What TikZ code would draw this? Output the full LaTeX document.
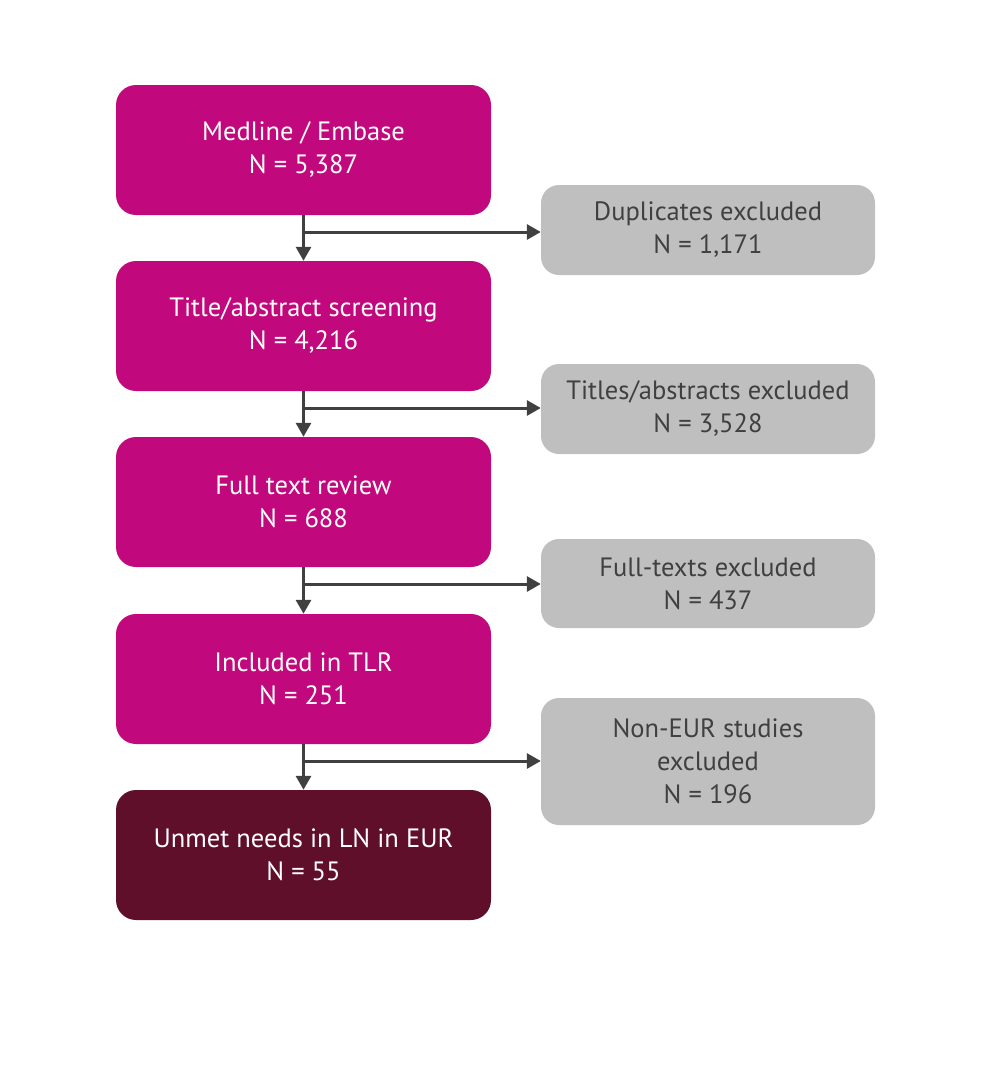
\documentclass[tikz,border=0pt]{standalone}
\usepackage{fontspec}
\setmainfont{PT Sans}
\usetikzlibrary{arrows.meta}
\definecolor{mag}{HTML}{C2087D}
\definecolor{maroon}{HTML}{600F2B}
\definecolor{greybox}{HTML}{BFBFBF}
\definecolor{dark}{HTML}{404040}
\begin{document}
\begin{tikzpicture}[x=1pt,y=-1pt,
  mainbox/.style={rounded corners=20pt, fill=mag, draw=none, text=white, minimum width=375pt, minimum height=130pt, align=center, font=\fontsize{26.5}{33}\selectfont, inner sep=0pt},
  endbox/.style={mainbox, fill=maroon},
  exbox/.style={rounded corners=18pt, fill=greybox, draw=none, text=dark, minimum width=334pt, align=center, font=\fontsize{26.5}{33}\selectfont, inner sep=0pt},
  conn/.style={draw=dark, line width=3pt, -{Triangle[length=14pt,width=15pt]}}]
\useasboundingbox (0,0) rectangle (1000,1065);
\node[mainbox] (m1) at (303.5,150) {Medline / Embase\\N = 5,387};
\node[mainbox] (m2) at (303.5,326) {Title/abstract screening\\N = 4,216};
\node[mainbox] (m3) at (303.5,502) {Full text review\\N = 688};
\node[mainbox] (m4) at (303.5,679) {Included in TLR\\N = 251};
\node[endbox] (m5) at (303.5,855) {Unmet needs in LN in EUR\\N = 55};
\node[exbox, minimum height=90pt] (e1) at (708,230) {Duplicates excluded\\N = 1,171};
\node[exbox, minimum height=90pt] (e2) at (708,409) {Titles/abstracts excluded\\N = 3,528};
\node[exbox, minimum height=89pt] (e3) at (708,583.5) {Full-texts excluded\\N = 437};
\node[exbox, minimum height=127pt] (e4) at (708,761.5) {Non-EUR studies\\excluded\\N = 196};
\foreach \a/\b/\e/\y in {m1/m2/e1/232, m2/m3/e2/408, m3/m4/e3/584, m4/m5/e4/761}{
  \draw[conn] (\a.south) -- (\b.north);
  \coordinate (j) at (303.5,\y);
  \draw[conn] (j) -- (j -| \e.west);
}
\end{tikzpicture}
\end{document}
